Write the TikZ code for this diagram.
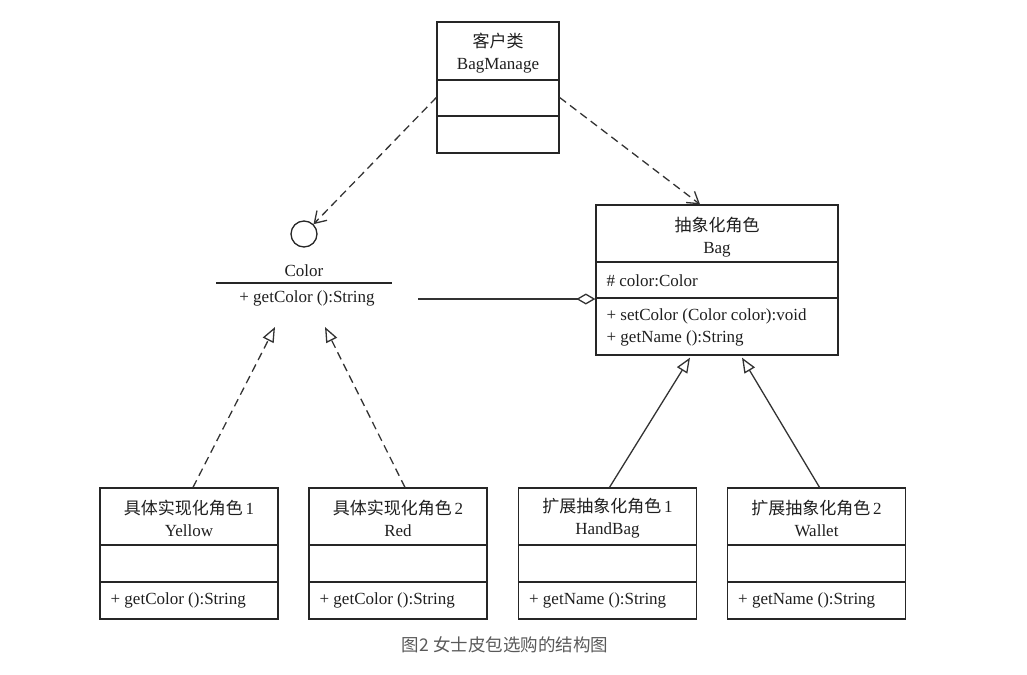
\documentclass[tikz,border=0pt]{standalone}
\usepackage{fontspec}
\setmainfont{Liberation Serif}
\newfontfamily\cjk{Noto Sans CJK SC}
\usetikzlibrary{arrows.meta}

\begin{document}
\begin{tikzpicture}[x=1pt, y=-1pt, line width=1.3pt, black!85,
  every node/.style={font=\fontsize{17}{22}\selectfont, text=black!88},
  cls/.style={draw=black!85, inner sep=0pt, minimum width=#1, minimum height=131pt},
  cls/.default=178pt,
  mtxt/.style={anchor=west, inner sep=0pt},
  dep/.style={draw=black!80, dash pattern=on 8pt off 5pt, -{Straight Barb[length=11pt, width=14pt]}},
  impl/.style={draw=black!80, dash pattern=on 8pt off 5pt, -{Triangle[open, length=15pt, width=12pt]}},
  gen/.style={draw=black!80, -{Triangle[open, length=15pt, width=12pt]}},
  agg/.style={draw=black!80, -{Diamond[open, length=19pt, width=11pt]}}]
	\useasboundingbox (0,0) rectangle (1027,674);
	% client
	\node[cls=122pt] (mgr) at (498,87.5) {};
	\draw (mgr.west |- 0,80) -- (mgr.east |- 0,80);
	\draw (mgr.west |- 0,116) -- (mgr.east |- 0,116);
	\node[align=center] (mgr-t) at (498,53.5) {{\cjk 客户类}\\BagManage};
	% interface Color
	\node[draw=black!85, circle, minimum size=26pt, inner sep=0pt] (ball) at (304,234) {};
	\node (iname) at (304,271) {Color};
	\draw (216,283) -- (392,283);
	\node (imeth) at (307,298) {+ getColor ():String};
	\coordinate (ireal) at (300,327);
	\coordinate (aggs) at (418,299);
	% abstraction
	\node[cls=242pt, minimum height=150pt] (bag) at (717,280) {};
	\draw (bag.west |- 0,262) -- (bag.east |- 0,262);
	\draw (bag.west |- 0,298) -- (bag.east |- 0,298);
	\node[align=center] (bag-t) at (717,237.5) {{\cjk 抽象化角色}\\Bag};
	\node[mtxt] (bag-f) at (606,281) {\# color:Color};
	\node[mtxt, align=left] (bag-m) at (606,327) {+ setColor (Color color):void\\+ getName ():String};
	% concrete classes
	\foreach \n/\x/\t/\k/\e/\m in {yel/189/具体实现化角色/1/Yellow/getColor, red/398/具体实现化角色/2/Red/getColor, hb/607.5/扩展抽象化角色/1/HandBag/getName, wal/816.5/扩展抽象化角色/2/Wallet/getName} {
		\node[cls] (\n) at (\x,553.5) {};
		\draw (\n.west |- 0,545) -- (\n.east |- 0,545);
		\draw (\n.west |- 0,582) -- (\n.east |- 0,582);
		\node[align=center] (\n-t) at (\x,518.5) {{\cjk \t}\,\k\\\e};
		\node[mtxt] (\n-m) at (\x-79,600) {+ \m\ ():String};
	}
	% connectors
	\draw[dep] ([yshift=-10pt]mgr.west) -- (ball);
	\draw[dep] ([yshift=-10pt]mgr.east) -- ([xshift=-17pt]bag.north);
	\draw[agg] (aggs) -- (bag.west |- aggs);
	\draw[impl] ([xshift=4pt]yel.north) -- ([xshift=-25pt]ireal);
	\draw[impl] ([xshift=7pt]red.north) -- ([xshift=25pt]ireal);
	\draw[gen] ([xshift=2pt]hb.north) -- ([xshift=-27pt,yshift=-2pt]bag.south);
	\draw[gen] ([xshift=3pt]wal.north) -- ([xshift=25pt,yshift=-2pt]bag.south);
	\node[font=\cjk\fontsize{17.5}{20}\selectfont, text=black!65] (cap) at (505,645) {图2 女士皮包选购的结构图};
\end{tikzpicture}
\end{document}
